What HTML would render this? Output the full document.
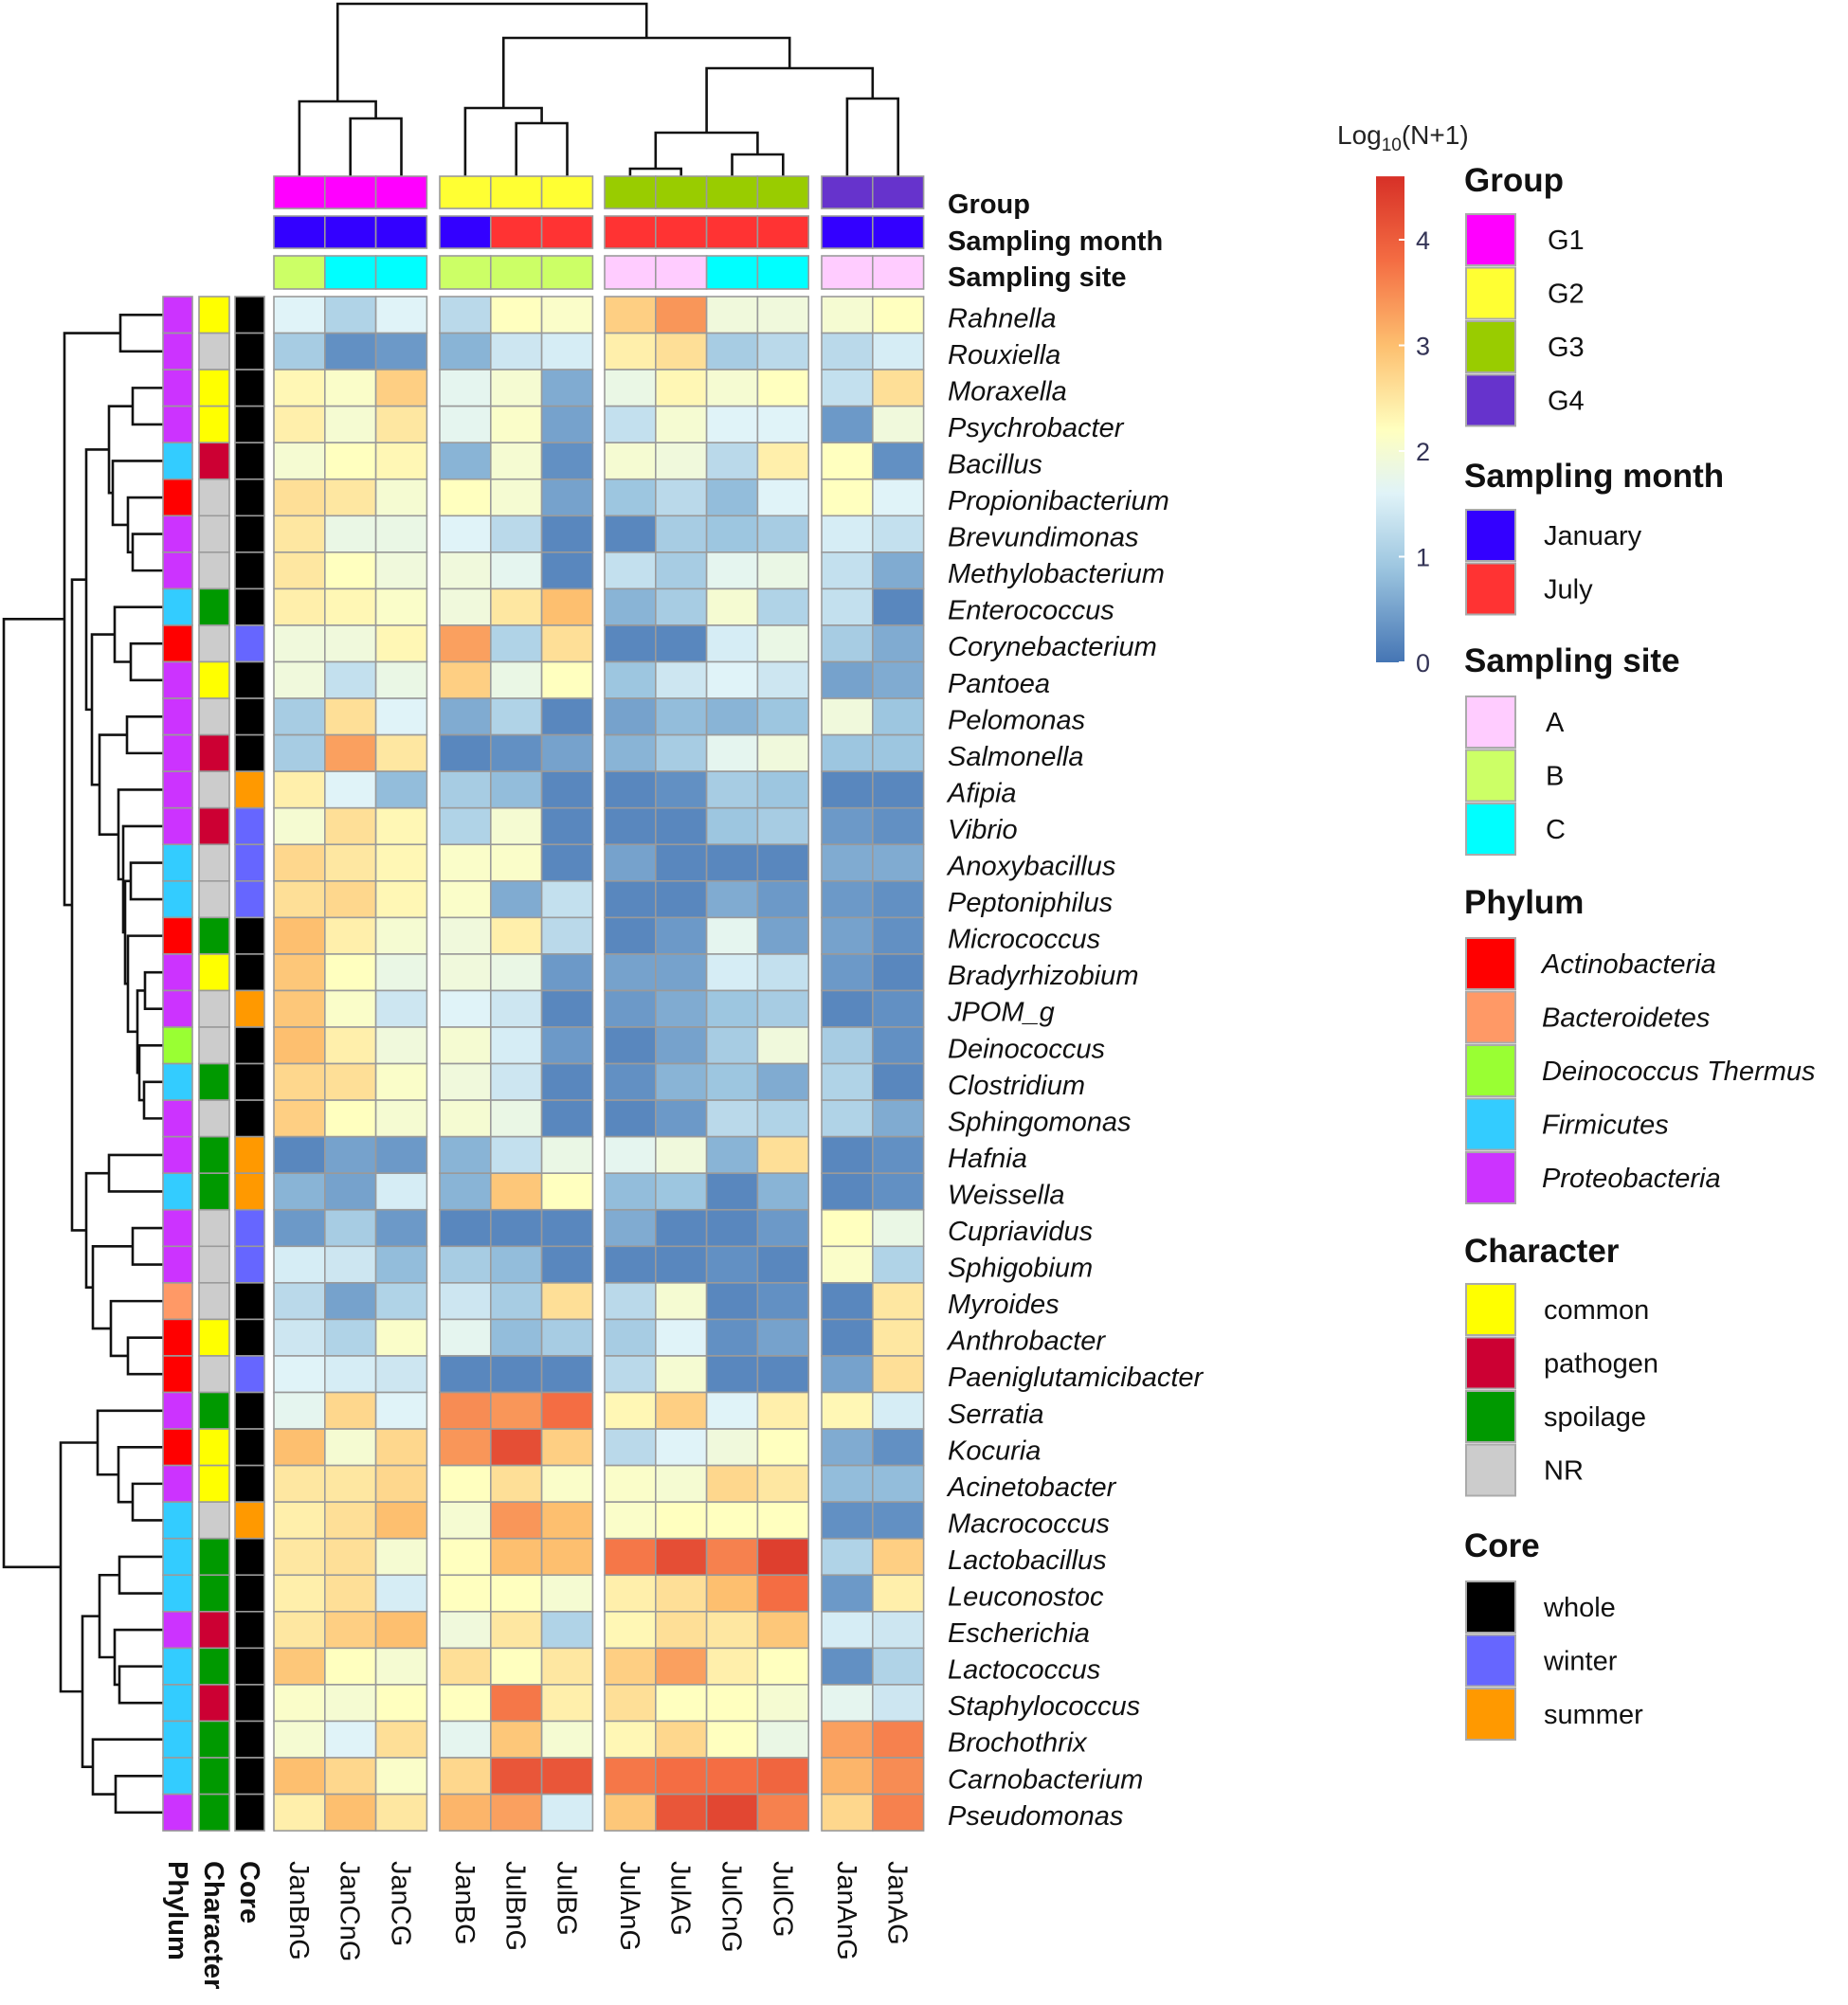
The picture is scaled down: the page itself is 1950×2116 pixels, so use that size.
<!DOCTYPE html>
<html><head><meta charset="utf-8">
<style>
html,body{margin:0;padding:0;background:#fff;}
svg{display:block;font-family:"Liberation Sans",Arial,sans-serif;}
</style></head>
<body>
<svg id="chart" width="1950" height="2116" viewBox="0 0 1950 2116" xmlns="http://www.w3.org/2000/svg">
<g id="dendro" fill="none" stroke="#111" stroke-width="2.6"></g>
<g id="cells"></g>
<g id="annots"></g>
<g id="labels"></g>
<g id="legend"></g>
</svg>
<script>
const colNames = ["JanBnG","JanCnG","JanCG","JanBG","JulBnG","JulBG","JulAnG","JulAG","JulCnG","JulCG","JanAnG","JanAG"];
const colGroup = ["G1","G1","G1","G2","G2","G2","G3","G3","G3","G3","G4","G4"];
const colMonth = ["January","January","January","January","July","July","July","July","July","July","January","January"];
const colSite = ["B","C","C","B","B","B","A","A","C","C","A","A"];
const rowNames = ["Rahnella","Rouxiella","Moraxella","Psychrobacter","Bacillus","Propionibacterium","Brevundimonas","Methylobacterium","Enterococcus","Corynebacterium","Pantoea","Pelomonas","Salmonella","Afipia","Vibrio","Anoxybacillus","Peptoniphilus","Micrococcus","Bradyrhizobium","JPOM_g","Deinococcus","Clostridium","Sphingomonas","Hafnia","Weissella","Cupriavidus","Sphigobium","Myroides","Anthrobacter","Paeniglutamicibacter","Serratia","Kocuria","Acinetobacter","Macrococcus","Lactobacillus","Leuconostoc","Escherichia","Lactococcus","Staphylococcus","Brochothrix","Carnobacterium","Pseudomonas"];
const rowPhylum = ["P","P","P","P","F","A","P","P","F","A","P","P","P","P","P","F","F","A","P","P","D","F","P","P","F","P","P","B","A","A","P","A","P","F","F","F","P","F","F","F","F","P"];
const rowCharacter = ["Y","N","Y","Y","R","N","N","N","G","N","Y","N","R","N","R","N","N","G","Y","N","N","G","N","G","G","N","N","N","Y","N","G","Y","Y","N","G","G","R","G","R","G","G","G"];
const rowCore = ["W","W","W","W","W","W","W","W","W","V","W","W","W","S","V","V","V","W","W","S","W","W","W","S","S","V","V","W","W","V","W","W","W","S","W","W","W","W","W","W","W","W"];
const values = [
[1.6,1.1,1.6,1.2,2.2,2.1,2.8,3.4,1.9,1.9,2.0,2.2],
[1.0,0.3,0.4,0.7,1.4,1.5,2.4,2.6,1.0,1.2,1.2,1.5],
[2.3,2.1,2.8,1.7,2.0,0.6,1.8,2.3,2.0,2.2,1.3,2.6],
[2.4,2.0,2.5,1.7,2.1,0.5,1.3,2.0,1.6,1.6,0.4,1.9],
[2.0,2.2,2.3,0.7,2.0,0.3,2.0,1.9,1.2,2.4,2.2,0.3],
[2.6,2.5,2.0,2.2,2.0,0.5,0.9,1.2,0.8,1.6,2.2,1.6],
[2.5,1.8,1.8,1.6,1.2,0.2,0.2,1.0,0.9,1.0,1.5,1.3],
[2.5,2.2,1.9,1.9,1.7,0.2,1.3,1.0,1.7,1.8,1.3,0.6],
[2.4,2.3,2.1,1.9,2.5,3.0,0.7,1.0,2.0,1.1,1.3,0.2],
[1.9,1.9,2.3,3.3,1.1,2.6,0.2,0.2,1.5,1.8,1.0,0.6],
[1.9,1.3,1.8,2.8,1.8,2.2,0.9,1.4,1.6,1.4,0.5,0.6],
[1.0,2.6,1.6,0.6,1.1,0.2,0.5,0.8,0.7,0.9,1.9,0.9],
[1.0,3.3,2.5,0.2,0.3,0.5,0.7,1.0,1.7,1.9,0.9,0.9],
[2.4,1.6,0.8,1.0,0.8,0.2,0.2,0.3,1.0,0.9,0.2,0.2],
[2.0,2.6,2.3,1.1,2.0,0.2,0.2,0.2,0.9,1.0,0.4,0.3],
[2.7,2.5,2.3,2.1,2.1,0.2,0.5,0.2,0.2,0.2,0.6,0.6],
[2.6,2.7,2.3,2.1,0.6,1.3,0.2,0.2,0.6,0.4,0.4,0.3],
[3.0,2.4,2.0,1.9,2.4,1.2,0.2,0.4,1.7,0.5,0.5,0.3],
[2.9,2.2,1.8,1.9,1.8,0.4,0.5,0.5,1.5,1.3,0.4,0.2],
[2.9,2.1,1.4,1.6,1.4,0.2,0.4,0.6,0.9,1.0,0.2,0.3],
[3.0,2.4,1.9,2.0,1.5,0.4,0.2,0.5,1.0,1.9,1.0,0.3],
[2.7,2.6,2.1,1.9,1.4,0.2,0.3,0.7,0.9,0.6,1.1,0.2],
[2.8,2.2,2.0,2.0,1.8,0.2,0.2,0.4,1.2,1.1,1.1,0.6],
[0.2,0.5,0.4,0.7,1.3,1.8,1.7,1.9,0.7,2.6,0.2,0.3],
[0.7,0.5,1.5,0.7,2.9,2.2,0.8,0.9,0.2,0.7,0.2,0.3],
[0.4,1.0,0.4,0.2,0.2,0.2,0.6,0.2,0.2,0.4,2.2,1.8],
[1.5,1.4,0.8,1.0,0.8,0.2,0.2,0.2,0.3,0.2,2.1,1.1],
[1.2,0.5,1.1,1.4,1.0,2.6,1.2,2.0,0.2,0.3,0.2,2.5],
[1.4,1.1,2.1,1.7,0.8,1.0,1.0,1.6,0.3,0.5,0.2,2.5],
[1.6,1.5,1.4,0.2,0.2,0.2,1.2,2.0,0.2,0.2,0.5,2.6],
[1.7,2.7,1.6,3.5,3.4,3.8,2.3,2.8,1.6,2.4,2.3,1.5],
[3.0,2.0,2.7,3.4,4.2,2.8,1.2,1.6,1.9,2.2,0.6,0.3],
[2.5,2.5,2.7,2.2,2.6,2.1,2.1,2.0,2.7,2.5,0.8,0.8],
[2.4,2.6,3.0,2.0,3.4,3.0,2.1,2.2,2.2,2.2,0.3,0.3],
[2.5,2.6,2.0,2.2,3.0,3.0,3.7,4.2,3.6,4.4,1.1,2.8],
[2.4,2.6,1.5,2.2,2.2,2.0,2.4,2.6,3.0,3.8,0.4,2.4],
[2.5,2.8,3.0,1.9,2.5,1.1,2.3,2.6,2.5,2.9,1.5,1.4],
[2.9,2.2,2.0,2.6,2.2,2.5,2.8,3.3,2.4,2.2,0.3,1.1],
[2.1,2.0,2.2,2.2,3.7,2.4,2.6,2.2,2.2,2.0,1.7,1.4],
[2.0,1.6,2.6,1.7,2.9,2.0,2.3,2.7,2.2,1.8,3.3,3.6],
[3.0,2.7,2.1,2.7,4.1,4.1,3.7,3.8,3.8,3.9,3.1,3.5],
[2.4,3.0,2.5,3.1,3.3,1.5,2.9,4.1,4.3,3.6,2.7,3.6]
];
const scaleTicks = [0,1,2,3,4];

const NS="http://www.w3.org/2000/svg";
function mk(tag,attrs,parent){const e=document.createElementNS(NS,tag);for(const k in attrs)e.setAttribute(k,attrs[k]);parent.appendChild(e);return e;}
const groupColors={G1:"#ff00ff",G2:"#ffff33",G3:"#99cc00",G4:"#6633cc"};
const monthColors={January:"#3300ff",July:"#ff3333"};
const siteColors={A:"#ffccff",B:"#ccff66",C:"#00ffff"};
const phylumColors={A:"#ff0000",B:"#ff9966",D:"#99ff33",F:"#33ccff",P:"#cc33ff"};
const charColors={Y:"#ffff00",R:"#cc0033",G:"#009900",N:"#cccccc"};
const coreColors={W:"#000000",V:"#6666ff",S:"#ff9900"};
const stops=[[0,[69,117,180]],[0.9,[157,198,224]],[1.6,[224,243,248]],[2.2,[255,255,191]],[3.0,[253,191,111]],[3.8,[244,109,67]],[4.6,[215,48,39]]];
function colorOf(v){v=Math.max(0,Math.min(4.6,v));for(let i=1;i<stops.length;i++){if(v<=stops[i][0]){const a=stops[i-1],b=stops[i],t=(v-a[0])/(b[0]-a[0]);const c=a[1].map((x,j)=>Math.round(x+(b[1][j]-x)*t));return `rgb(${c})`;}}return "rgb(215,48,39)";}

const colW=53.8, groupStart={G1:289,G2:464,G3:638,G4:867};
function colX(i){const g=colGroup[i];const first=colGroup.indexOf(g);return groupStart[g]+(i-first)*colW;}
const rowTop=313,rowH=38.55;
function rowY(r){return rowTop+r*rowH;}
function valToY(v){return 699-v*111.5;}

const cells=document.getElementById('cells');
values.forEach((row,r)=>row.forEach((v,c)=>{
  const e=mk('rect',{x:colX(c),y:rowY(r),width:colW,height:rowH,fill:colorOf(v),stroke:"#9a9a9a","stroke-width":1.6},cells);
  
  
}));

const ann=document.getElementById('annots');
const topTracks=[[186,34,colGroup,groupColors,'group'],[228,34,colMonth,monthColors,'month'],[270,35,colSite,siteColors,'site']];
topTracks.forEach(([y,h,arr,cm,nm])=>arr.forEach((k,c)=>{
  const e=mk('rect',{x:colX(c),y:y,width:colW,height:h,fill:cm[k],stroke:"#9a9a9a","stroke-width":1.6},ann);
  
  
}));
const leftTracks=[[172,31,rowPhylum,phylumColors,'phylum'],[210,32,rowCharacter,charColors,'character'],[248,31,rowCore,coreColors,'core']];
leftTracks.forEach(([x,w,arr,cm,nm])=>arr.forEach((k,r)=>{
  const e=mk('rect',{x:x,y:rowY(r),width:w,height:rowH,fill:cm[k],stroke:"#9a9a9a","stroke-width":1.6},ann);
  
  
}));

const lab=document.getElementById('labels');
rowNames.forEach((n,r)=>{
  const t=mk('text',{x:1000,y:rowY(r)+rowH/2+13,'font-size':29,'font-style':'italic',fill:'#111'},lab);
  t.textContent=n;
  
  
});
[["Group",225],["Sampling month",264],["Sampling site",302]].forEach(([n,y])=>{
  const t=mk('text',{x:1000,y:y,'font-size':29,'font-weight':'bold',fill:'#111'},lab);
  t.textContent=n;
  
  
});
colNames.forEach((n,c)=>{
  const cx=colX(c)+colW/2-10;
  const t=mk('text',{transform:`translate(${cx},1964) rotate(90)`,'font-size':29,fill:'#111'},lab);
  t.textContent=n;
  
  
});
[["Phylum",188],["Character",226],["Core",264]].forEach(([n,cx])=>{
  const t=mk('text',{transform:`translate(${cx-10},1964) rotate(90)`,'font-size':29,'font-weight':'bold',fill:'#111'},lab);
  t.textContent=n;
  
  
});

const dg=document.getElementById('dendro');
const topTree=[[0,[1,2,125],107],[[3,[4,5,130],114],[[[6,7,178],[8,9,163],140],[10,11,104],72],40],4];
function drawTop(n){
  if(typeof n==='number') return {x:colX(n)+colW/2,y:186};
  const a=drawTop(n[0]),b=drawTop(n[1]),h=n[2];
  mk('path',{d:`M${a.x},${a.y}V${h}H${b.x}V${b.y}`},dg);
  return {x:(a.x+b.x)/2,y:h};
}
drawTop(topTree);
const N3=[[19,20,153],[21,[22,23,152],147],145];
const N10=[[[3,4,140],[5,[6,[7,8,140],135],119],115],[[9,[10,11,138],121],[[12,13,134],[14,[15,[[16,17,138],[18,N3,135],132],130],125],105],97],91];
const LG=[[24,25,115],[[26,27,140],[28,[29,30,135],117],98],91];
const upper=[[1,2,127],[N10,LG,76],68];
const lower=[[31,[32,[33,34,140],125],103],[[[35,36,126],[37,[38,39,126],121],105],[40,[41,42,122],98],87],64];
const leftTree=[upper,lower,4];
function drawLeft(n){
  if(typeof n==='number') return {x:172,y:rowY(n-1)+rowH/2};
  const a=drawLeft(n[0]),b=drawLeft(n[1]),h=n[2];
  mk('path',{d:`M${a.x},${a.y}H${h}V${b.y}H${b.x}`},dg);
  return {x:h,y:(a.y+b.y)/2};
}
drawLeft(leftTree);

const lg=document.getElementById('legend');
const ct=mk('text',{x:1411,y:152,'font-size':28,fill:'#222'},lg);
ct.innerHTML='Log<tspan font-size="19" dy="7">10</tspan><tspan dy="-7">(N+1)</tspan>';


const defs=mk('defs',{},lg);
const grad=mk('linearGradient',{id:'cg',x1:0,y1:1,x2:0,y2:0},defs);
stops.forEach(s=>mk('stop',{offset:s[0]/4.6,'stop-color':`rgb(${s[1]})`},grad));
const bar=mk('rect',{x:1452,y:valToY(4.6),width:30,height:valToY(0)-valToY(4.6),fill:'url(#cg)'},lg);


scaleTicks.forEach(v=>{
  mk('line',{x1:1476,x2:1482,y1:valToY(v),y2:valToY(v),stroke:'#fff','stroke-width':2},lg);
  const t=mk('text',{x:1494,y:valToY(v)+10,'font-size':27,fill:'#333355'},lg);
  t.textContent=v;
  
  
});
function section(title,ty,items,startY,italic,labelX){
  const t=mk('text',{x:1545,y:ty,'font-size':35,'font-weight':'bold',fill:'#111'},lg);
  t.textContent=title;
  
  
  items.forEach(([lbl,col],i)=>{
    const y=startY+i*56.5;
    const r=mk('rect',{x:1547,y:y,width:52,height:54,fill:col,stroke:'#aaa','stroke-width':2},lg);
    
    
    const l=mk('text',{x:labelX,y:y+37,'font-size':29,fill:'#111'},lg);
    if(italic) l.setAttribute('font-style','italic');
    l.textContent=lbl;
    
    
  });
}
section("Group",202,[["G1","#ff00ff"],["G2","#ffff33"],["G3","#99cc00"],["G4","#6633cc"]],226,false,1633);
section("Sampling month",514,[["January","#3300ff"],["July","#ff3333"]],538,false,1629);
section("Sampling site",709,[["A","#ffccff"],["B","#ccff66"],["C","#00ffff"]],735,false,1631);
section("Phylum",964,[["Actinobacteria","#ff0000"],["Bacteroidetes","#ff9966"],["Deinococcus Thermus","#99ff33"],["Firmicutes","#33ccff"],["Proteobacteria","#cc33ff"]],990,true,1627);
section("Character",1332,[["common","#ffff00"],["pathogen","#cc0033"],["spoilage","#009900"],["NR","#cccccc"]],1355,false,1629);
section("Core",1643,[["whole","#000000"],["winter","#6666ff"],["summer","#ff9900"]],1669,false,1629);
</script>
</body></html>
